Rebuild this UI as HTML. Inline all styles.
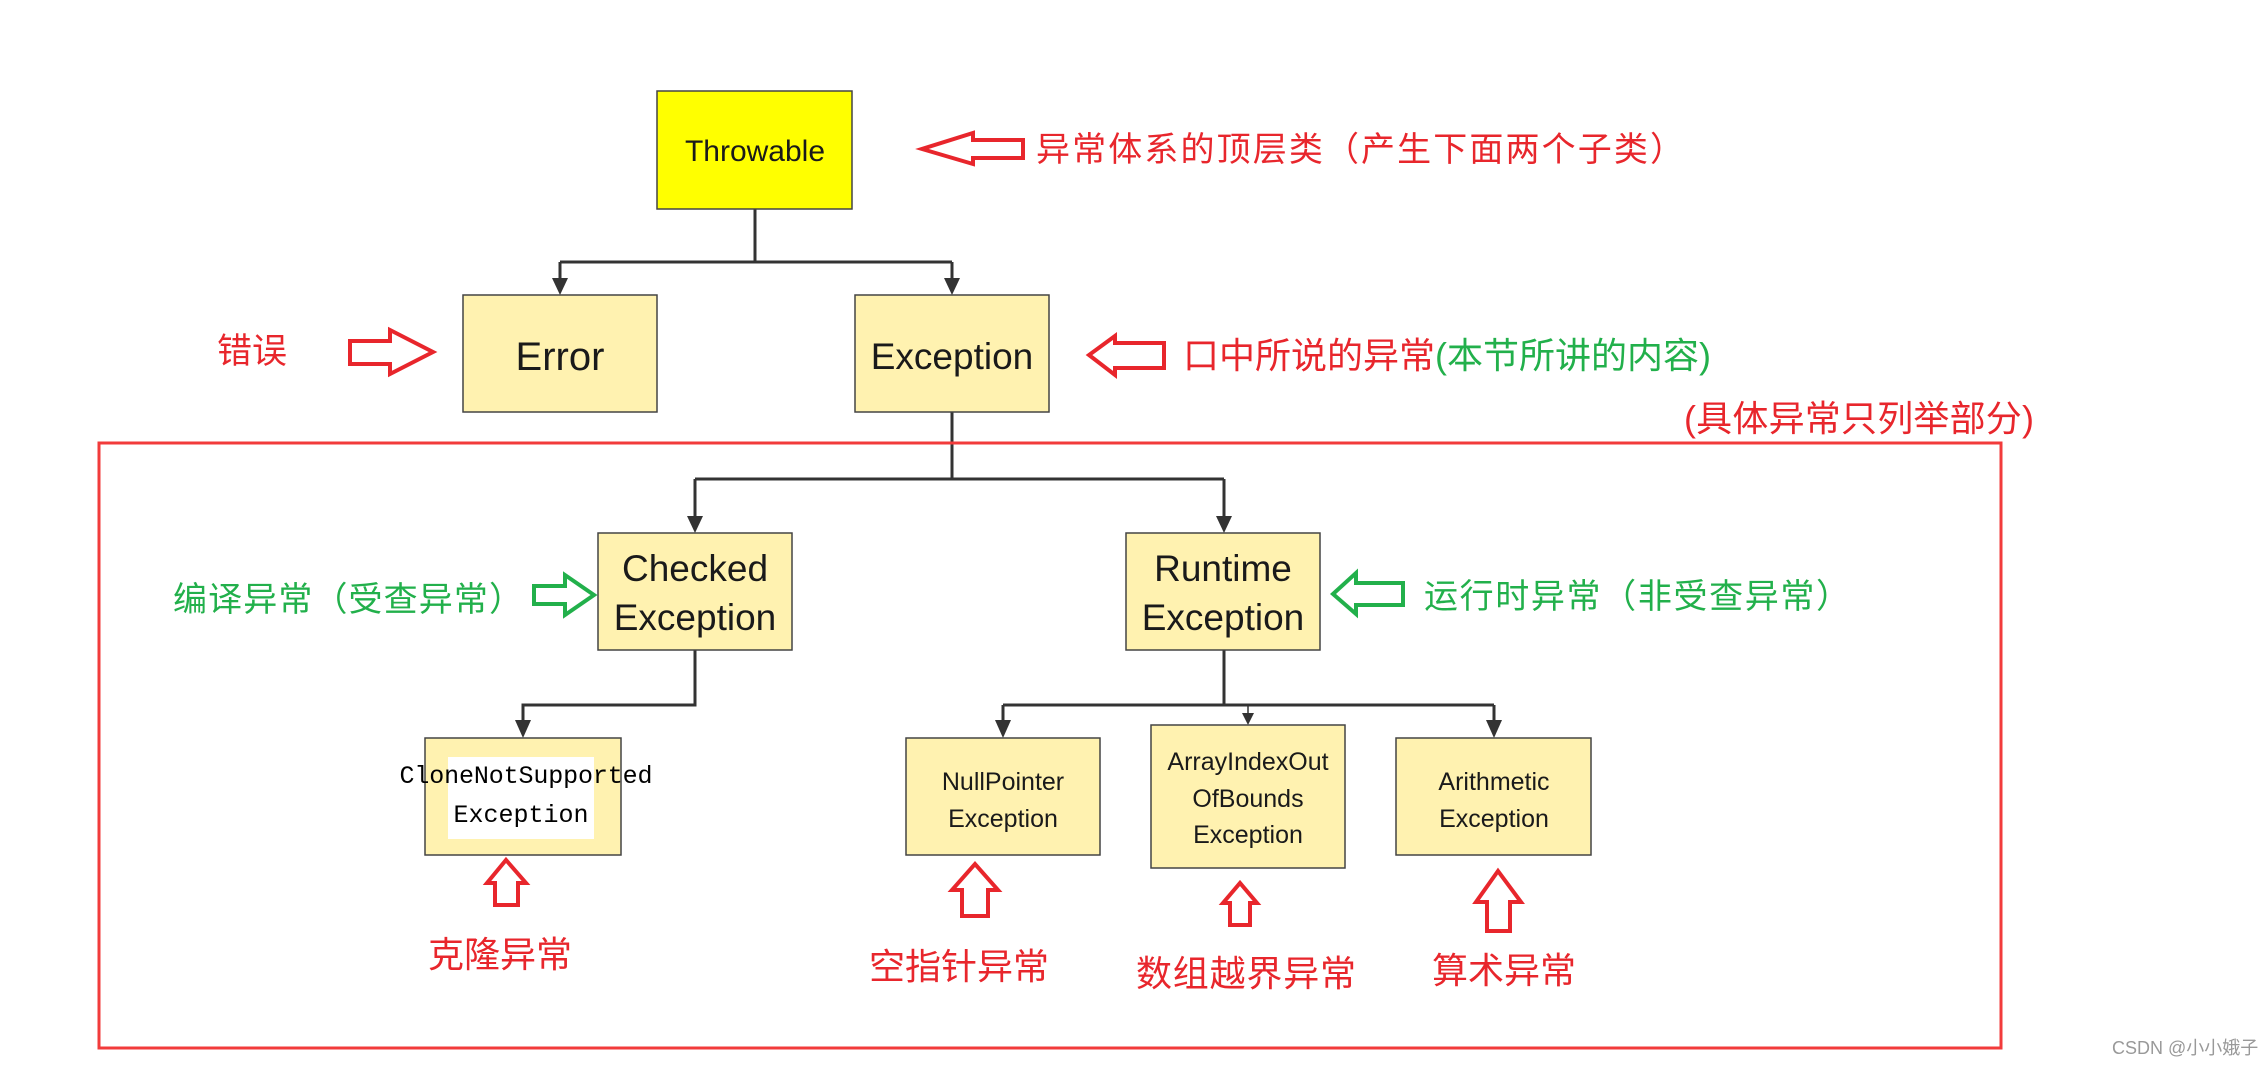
<!DOCTYPE html>
<html><head><meta charset="utf-8"><style>
html,body{margin:0;padding:0;background:#fff;}
svg{display:block;}
.box{fill:#fff2b0;stroke:#444;stroke-width:1.5;}
.ln{stroke:#333;stroke-width:3;fill:none;}
.hd{fill:#333;}
.bt{font-family:"Liberation Sans",sans-serif;fill:#1a1a1a;text-anchor:middle;}
.cn{font-family:"Liberation Sans","Noto Sans CJK SC",sans-serif;}
.r{fill:#e8262c;}
.g{fill:#22b04b;}
.ra{fill:#fff;stroke:#e8262c;stroke-width:4;stroke-linejoin:miter;}
.ga{fill:#fff;stroke:#22b04b;stroke-width:4;}
</style></head><body>
<svg width="2264" height="1066" viewBox="0 0 2264 1066" xmlns="http://www.w3.org/2000/svg">
<!-- connectors -->
<path class="ln" d="M755 209V262M560 262H952M560 262V282M952 262V282"/>
<polygon class="hd" points="552,278 568,278 560,295"/>
<polygon class="hd" points="944,278 960,278 952,295"/>
<path class="ln" d="M952 412V479M695 479H1224M695 479V518M1224 479V518"/>
<polygon class="hd" points="687,516 703,516 695,533"/>
<polygon class="hd" points="1216,516 1232,516 1224,533"/>
<path class="ln" d="M695 650V705H523V722"/>
<polygon class="hd" points="515,720 531,720 523,738"/>
<path class="ln" d="M1224 650V705M1003 705H1494M1003 705V722M1494 705V722"/>
<polygon class="hd" points="995,720 1011,720 1003,738"/>
<polygon class="hd" points="1486,720 1502,720 1494,738"/>
<path d="M1248 705V716" stroke="#333" stroke-width="1.5"/>
<polygon class="hd" points="1242,713 1254,713 1248,725"/>
<!-- boxes -->
<rect x="657" y="91" width="195" height="118" fill="#ffff00" stroke="#444" stroke-width="1.5"/>
<text class="bt" x="755" y="161" font-size="30">Throwable</text>
<rect class="box" x="463" y="295" width="194" height="117"/>
<text class="bt" x="560" y="370" font-size="40">Error</text>
<rect class="box" x="855" y="295" width="194" height="117"/>
<text class="bt" x="952" y="369" font-size="37">Exception</text>
<rect class="box" x="598" y="533" width="194" height="117"/>
<text class="bt" x="695" y="581" font-size="37">Checked</text>
<text class="bt" x="695" y="630" font-size="37">Exception</text>
<rect class="box" x="1126" y="533" width="194" height="117"/>
<text class="bt" x="1223" y="581" font-size="37">Runtime</text>
<text class="bt" x="1223" y="630" font-size="37">Exception</text>
<rect class="box" x="425" y="738" width="196" height="117"/>
<rect x="448" y="757" width="146" height="82" fill="#fff"/>
<text x="526" y="783" font-size="25" font-family="Liberation Mono,monospace" text-anchor="middle" textLength="253" fill="#000">CloneNotSupported</text>
<text x="521" y="822" font-size="25" font-family="Liberation Mono,monospace" text-anchor="middle" textLength="135" fill="#000">Exception</text>
<rect class="box" x="906" y="738" width="194" height="117"/>
<text class="bt" x="1003" y="790" font-size="25">NullPointer</text>
<text class="bt" x="1003" y="827" font-size="25">Exception</text>
<rect class="box" x="1151" y="725" width="194" height="143"/>
<text class="bt" x="1248" y="770" font-size="25">ArrayIndexOut</text>
<text class="bt" x="1248" y="807" font-size="25">OfBounds</text>
<text class="bt" x="1248" y="843" font-size="25">Exception</text>
<rect class="box" x="1396" y="738" width="195" height="117"/>
<text class="bt" x="1494" y="790" font-size="25">Arithmetic</text>
<text class="bt" x="1494" y="827" font-size="25">Exception</text>
<!-- red frame -->
<rect x="99" y="443" width="1902" height="605" fill="none" stroke="#f23b3b" stroke-width="3"/>
<!-- hollow arrows -->
<polygon class="ra" points="1023,140 973,140 973,133 922,149 973,164 973,158 1023,158"/>
<polygon class="ra" points="350,341 390,341 390,330 433,352 390,374 390,364 350,364"/>
<polygon class="ra" points="1164,343 1115,343 1115,336 1089,355 1115,375 1115,368 1164,368"/>
<polygon class="ga" points="534,586 565,586 565,575 594,595 565,615 565,604 534,604"/>
<polygon class="ga" points="1403,583 1356,583 1356,573 1333,594 1356,614 1356,605 1403,605"/>
<polygon class="ra" points="495,905 495,883 487,883 506,860 526,883 518,883 518,905"/>
<polygon class="ra" points="962,916 962,890 952,890 975,864 998,890 988,890 988,916"/>
<polygon class="ra" points="1230,925 1230,903 1223,903 1240,883 1257,903 1250,903 1250,925"/>
<polygon class="ra" points="1487,931 1487,902 1476,902 1498,871 1521,902 1510,902 1510,931"/>
<!-- labels -->
<text class="cn r" x="1036" y="161" font-size="34" textLength="648">异常体系的顶层类（产生下面两个子类）</text>
<text class="cn r" x="217" y="363" font-size="35">错误</text>
<text class="cn" x="1183" y="368" font-size="36"><tspan class="r">口中所说的异常</tspan><tspan class="g">(本节所讲的内容)</tspan></text>
<text class="cn r" x="1684" y="431" font-size="36" textLength="350">(具体异常只列举部分)</text>
<text class="cn g" x="173" y="611" font-size="34" textLength="350">编译异常（受查异常）</text>
<text class="cn g" x="1424" y="608" font-size="34" textLength="426">运行时异常（非受查异常）</text>
<text class="cn r" x="428" y="967" font-size="36">克隆异常</text>
<text class="cn r" x="869" y="979" font-size="36">空指针异常</text>
<text class="cn r" x="1136" y="986" font-size="36" textLength="220">数组越界异常</text>
<text class="cn r" x="1432" y="983" font-size="36">算术异常</text>
<text class="cn" x="2112" y="1054" font-size="18" fill="#999">CSDN @小小娥子</text>
</svg>
</body></html>
